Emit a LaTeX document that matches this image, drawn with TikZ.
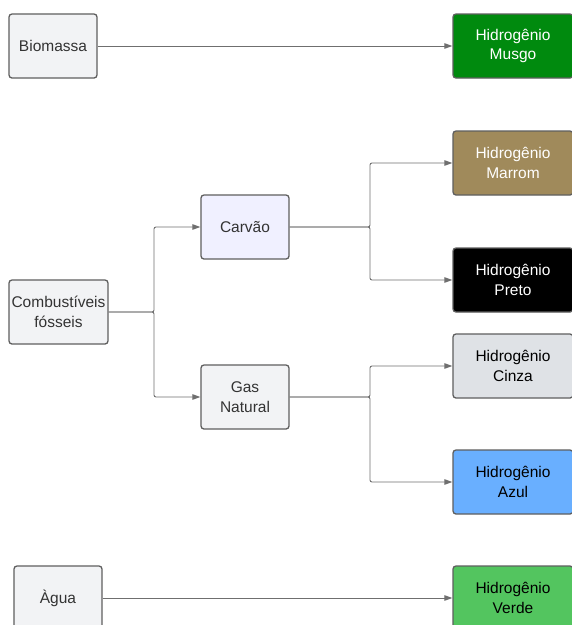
\documentclass[tikz,border=0pt]{standalone}
\usepackage{fontspec}
\setmainfont{Liberation Sans}
\usetikzlibrary{arrows.meta}
\definecolor{boxgray}{HTML}{F2F3F5}
\definecolor{lav}{HTML}{F0F0FF}
\definecolor{musgo}{HTML}{008A0E}
\definecolor{marrom}{HTML}{A08A5B}
\definecolor{cinza}{HTML}{DFE2E6}
\definecolor{azul}{HTML}{69AFFF}
\definecolor{verde}{HTML}{53C55F}
\definecolor{edge}{HTML}{5F5F5F}
\definecolor{txt}{HTML}{333333}
\tikzset{
  box/.style={draw=edge, line width=1.3pt, rounded corners=3pt, align=center,
    inner sep=0pt, font=\fontsize{15.5}{19.5}\selectfont, text=txt},
  srcbox/.style={box, fill=boxgray, minimum width=88pt, minimum height=64pt},
  hbox/.style={box, minimum width=120pt, minimum height=64pt},
  conn/.style={draw=edge!90, line width=0.9pt, rounded corners=2pt,
    -{Triangle[length=8pt,width=5.5pt]}}
}
\begin{document}
\begin{tikzpicture}[x=1pt,y=-1pt]
\useasboundingbox (0,0) rectangle (572,625);
\fill[white] (0,0) rectangle (572,625);
% sources
\node[srcbox] (bio) at (53,46) {Biomassa};
\node[srcbox, minimum width=99pt] (comb) at (58.5,312) {Combustíveis\\fósseis};
\node[srcbox, fill=lav] (carv) at (245,227) {Carvão};
\node[srcbox] (gas) at (245,397) {Gas\\Natural};
\node[srcbox] (agua) at (58,598) {Àgua};
% hydrogen boxes
\node[hbox, fill=musgo, text=white] (musgo) at (513,46) {Hidrogênio\\Musgo};
\node[hbox, fill=marrom, text=white] (marrom) at (513,163) {Hidrogênio\\Marrom};
\node[hbox, fill=black, text=white] (preto) at (513,280) {Hidrogênio\\Preto};
\node[hbox, fill=cinza, text=black] (cinzab) at (513,366) {Hidrogênio\\Cinza};
\node[hbox, fill=azul, text=black] (azulb) at (513,482) {Hidrogênio\\Azul};
\node[hbox, fill=verde, text=black] (verdeb) at (513,598) {Hidrogênio\\Verde};
% connectors
\draw[conn] (bio.east) -- (musgo.west);
\draw[conn] (agua.east) -- (agua.east -| musgo.west);
\draw[conn] (comb.east) -- (154,312) |- (carv.west);
\draw[conn] (comb.east) -- (154,312) |- (gas.west);
\draw[conn] (carv.east) -- (370,227) |- (marrom.west);
\draw[conn] (carv.east) -- (370,227) |- (preto.west);
\draw[conn] (gas.east) -- (370,397) |- (cinzab.west);
\draw[conn] (gas.east) -- (370,397) |- (azulb.west);
\end{tikzpicture}
\end{document}
